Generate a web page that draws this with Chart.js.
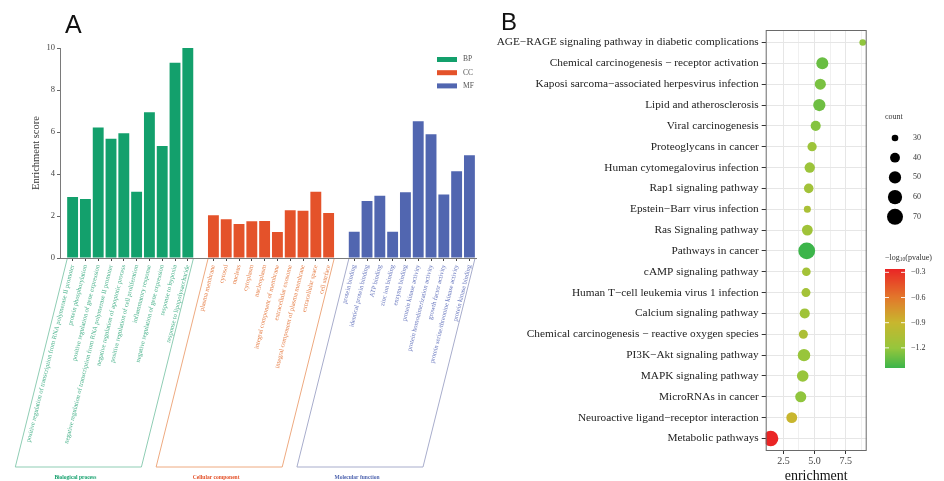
<!DOCTYPE html>
<html>
<head>
<meta charset="utf-8">
<script src="https://cdn.jsdelivr.net/npm/chart.js@4.4.0/dist/chart.umd.min.js"></script>
<style>
  html, body { margin: 0; padding: 0; background: #fff; overflow: hidden; }
  #wrapA { position: absolute; left: 0; top: 0; width: 480px; height: 481px; }
  #wrapB { position: absolute; left: 480px; top: 0; width: 464px; height: 481px; }
</style>
</head>
<body>
<div id="wrapA"><canvas id="goChart"></canvas></div>
<div id="wrapB"><canvas id="keggChart"></canvas></div>
<script>
// ---- panel A: GO enrichment ----
const bpTerms = [
  "positive regulation of transcription from RNA polymerase II promoter",
  "protein phosphorylation",
  "positive regulation of gene expression",
  "negative regulation of transcription from RNA polymerase II promoter",
  "negative regulation of apoptotic process",
  "positive regulation of cell proliferation",
  "inflammatory response",
  "negative regulation of gene expression",
  "response to hypoxia",
  "response to lipopolysaccharide"
];
const bpScores = [2.9, 2.81, 6.22, 5.68, 5.94, 3.16, 6.94, 5.33, 9.3, 10.0];

const ccTerms = [
  "plasma membrane", "cytosol", "nucleus", "cytoplasm", "nucleoplasm",
  "integral component of membrane", "extracellular exosome",
  "integral component of plasma membrane", "extracellular space", "cell surface"
];
const ccScores = [2.03, 1.84, 1.62, 1.75, 1.76, 1.24, 2.27, 2.25, 3.16, 2.14];

const mfTerms = [
  "protein binding", "identical protein binding", "ATP binding", "zinc ion binding",
  "enzyme binding", "protein kinase activity", "protein homodimerization activity",
  "growth factor activity", "protein serine/threonine kinase activity", "protein kinase binding"
];
const mfScores = [1.25, 2.71, 2.97, 1.25, 3.13, 6.51, 5.89, 3.02, 4.13, 4.89];
const scoreTicks = [0, 2, 4, 6, 8, 10];

// ---- panel B: KEGG dot plot ----
const pathways = [
  "AGE\u2212RAGE signaling pathway in diabetic complications",
  "Chemical carcinogenesis \u2212 receptor activation",
  "Kaposi sarcoma\u2212associated herpesvirus infection",
  "Lipid and atherosclerosis",
  "Viral carcinogenesis",
  "Proteoglycans in cancer",
  "Human cytomegalovirus infection",
  "Rap1 signaling pathway",
  "Epstein\u2212Barr virus infection",
  "Ras Signaling pathway",
  "Pathways in cancer",
  "cAMP signaling pathway",
  "Human T\u2212cell leukemia virus 1 infection",
  "Calcium signaling pathway",
  "Chemical carcinogenesis \u2212 reactive oxygen species",
  "PI3K\u2212Akt signaling pathway",
  "MAPK signaling pathway",
  "MicroRNAs in cancer",
  "Neuroactive ligand\u2212receptor interaction",
  "Metabolic pathways"
];
const enrichment = [8.86, 5.62, 5.46, 5.38, 5.09, 4.80, 4.61, 4.53, 4.42, 4.42, 4.37, 4.34, 4.31, 4.21, 4.10, 4.15, 4.05, 3.89, 3.17, 1.48];
const counts = [30, 49, 45, 50, 41, 38, 42, 39, 31, 44, 75, 36, 37, 41, 37, 51, 47, 45, 44, 66];
const logP = [-1.22, -1.32, -1.28, -1.31, -1.25, -1.16, -1.17, -1.13, -1.08, -1.14, -1.44, -1.12, -1.12, -1.14, -1.07, -1.19, -1.19, -1.22, -0.9, -0.26];
const enrichmentTicks = [2.5, 5.0, 7.5];
const countBreaks = [30, 40, 50, 60, 70];
const logPBreaks = [-0.3, -0.6, -0.9, -1.2];

const SERIF = '"Liberation Serif", "DejaVu Serif", serif';
const SANS = '"Liberation Sans", Arial, sans-serif';

const groups = [
  { name: "BP", title: "Biological process", terms: bpTerms, scores: bpScores, color: "#13a06c", text: "#45b088", box: "#8fcdb4" },
  { name: "CC", title: "Cellular component", terms: ccTerms, scores: ccScores, color: "#e4522a", text: "#e57d45", box: "#eeaa80" },
  { name: "MF", title: "Molecular function", terms: mfTerms, scores: mfScores, color: "#5166b0", text: "#6675bd", box: "#a8adcc" }
];

// lay the groups out on one index axis with an empty slot between them
const slots = [];
let pos = 0;
groups.forEach((g, gi) => {
  g.start = pos;
  g.terms.forEach((t, i) => slots.push({ x: pos + i, label: t, gi: gi }));
  pos += g.terms.length + 1;
});
const slotAt = {};
slots.forEach(s => { slotAt[s.x] = s; });

const ROT = 76;

const goDecor = {
  id: "goDecor",
  afterDraw(chart) {
    const ctx = chart.ctx;
    const xs = chart.scales.x;
    const area = chart.chartArea;
    ctx.save();
    ctx.fillStyle = "#111";
    ctx.font = "25px " + SANS;
    ctx.textBaseline = "alphabetic";
    ctx.fillText("A", 65, 33);

    // legend
    ctx.font = "7.5px " + SERIF;
    ctx.textBaseline = "middle";
    groups.forEach((g, i) => {
      const y = 59.5 + i * 13.2;
      ctx.fillStyle = g.color;
      ctx.fillRect(437, y - 2.5, 20, 5);
      ctx.fillStyle = "#555";
      ctx.fillText(g.name, 463, y);
    });

    // slanted group boxes
    const yTop = area.bottom + 1;
    const yBot = 467;
    const shift = (yBot - yTop) / Math.tan(ROT * Math.PI / 180);
    groups.forEach((g, gi) => {
      const bar = chart.getDatasetMeta(gi).data[0];
      const half = bar ? bar.width / 2 : 5.5;
      const x0 = xs.getPixelForValue(g.start) - half;
      const x1 = xs.getPixelForValue(g.start + g.terms.length - 1) + half;
      ctx.strokeStyle = g.box;
      ctx.lineWidth = 1;
      ctx.beginPath();
      ctx.moveTo(x0, yTop);
      ctx.lineTo(x0 - shift, yBot);
      ctx.lineTo(x1 - shift, yBot);
      ctx.lineTo(x1, yTop);
      ctx.stroke();
      ctx.fillStyle = g.color;
      ctx.font = "bold 5.5px " + SERIF;
      ctx.textAlign = "center";
      ctx.fillText(g.title, (x0 + x1) / 2 - shift - 3, 477.5);
    });
    ctx.restore();
  }
};

new Chart(document.getElementById("goChart"), {
  type: "bar",
  data: {
    datasets: groups.map(g => ({
      label: g.name,
      data: g.scores.map((v, i) => ({ x: g.start + i, y: v })),
      backgroundColor: g.color,
      grouped: false,
      categoryPercentage: 1,
      barPercentage: 0.85
    }))
  },
  options: {
    responsive: true,
    maintainAspectRatio: false,
    animation: false,
    layout: { padding: { top: 48, left: 0, right: 0, bottom: 0 } },
    plugins: { legend: { display: false }, tooltip: { enabled: false } },
    scales: {
      x: {
        type: "linear",
        min: -0.985,
        max: 31.57,
        offset: false,
        afterBuildTicks: s => { s.ticks = slots.map(p => ({ value: p.x })); },
        afterFit: s => { s.height = 223; },
        ticks: {
          autoSkip: false,
          minRotation: ROT,
          maxRotation: ROT,
          padding: 3,
          font: { family: SERIF, size: 6.5 },
          color: c => slotAt[c.tick.value] ? groups[slotAt[c.tick.value].gi].text : "#666",
          callback: v => slotAt[v] ? slotAt[v].label : ""
        },
        grid: { drawOnChartArea: false, offset: false, tickLength: 3, color: "#444" },
        border: { color: "#7a7a7a" }
      },
      y: {
        min: 0,
        max: 10,
        afterBuildTicks: s => { s.ticks = scoreTicks.map(v => ({ value: v })); },
        afterFit: s => { s.width = 60; },
        ticks: { font: { family: SERIF, size: 8.5 }, color: "#444", padding: 2 },
        grid: { drawOnChartArea: false, tickLength: 3, color: "#666" },
        border: { color: "#7a7a7a" },
        title: {
          display: true,
          text: "Enrichment score",
          font: { family: SERIF, size: 10.5 },
          color: "#333",
          padding: { top: 30, bottom: 0 }
        }
      }
    }
  },
  plugins: [goDecor]
});

// ---- panel B helpers ----
const palette = [
  { t: 0, c: [60, 181, 74] },
  { t: 0.2, c: [150, 198, 60] },
  { t: 0.46, c: [200, 182, 46] },
  { t: 0.71, c: [226, 120, 43] },
  { t: 1, c: [234, 37, 37] }
];
const logMin = Math.min(...logP);
const logMax = Math.max(...logP);
function colorOf(v) {
  const t = Math.max(0, Math.min(1, (v - logMin) / (logMax - logMin)));
  for (let i = 1; i < palette.length; i++) {
    if (t <= palette[i].t) {
      const a = palette[i - 1], b = palette[i];
      const f = (t - a.t) / (b.t - a.t);
      const c = a.c.map((ch, k) => Math.round(ch + (b.c[k] - ch) * f));
      return "rgb(" + c.join(",") + ")";
    }
  }
  return "rgb(" + palette[palette.length - 1].c.join(",") + ")";
}
function sizeOf(n) {
  return Math.sqrt(10.9 + (n - 30) * 1.33);
}
const minorTicks = enrichmentTicks.map(v => v + 1.25);

const keggDecor = {
  id: "keggDecor",
  afterDraw(chart) {
    const ctx = chart.ctx;
    const a = chart.chartArea;
    ctx.save();
    ctx.strokeStyle = "#6a6a6a";
    ctx.lineWidth = 1;
    ctx.strokeRect(a.left + 0.5, a.top + 0.5, a.right - a.left - 1, a.bottom - a.top - 1);

    ctx.fillStyle = "#111";
    ctx.font = "24px " + SANS;
    ctx.fillText("B", 21, 30);

    // size legend
    ctx.font = "8px " + SERIF;
    ctx.fillStyle = "#333";
    ctx.textBaseline = "middle";
    ctx.fillText("count", 405, 117);
    countBreaks.forEach((n, i) => {
      const y = 138 + i * 19.7;
      ctx.fillStyle = "#000";
      ctx.beginPath();
      ctx.arc(415, y, sizeOf(n), 0, Math.PI * 2);
      ctx.fill();
      ctx.fillStyle = "#333";
      ctx.fillText(String(n), 433, y);
    });

    // colour bar
    const bx = 405, bw = 20, top = 269, bot = 368;
    for (let y = top; y < bot; y++) {
      const v = logMax - (y + 0.5 - top) / (bot - top) * (logMax - logMin);
      ctx.fillStyle = colorOf(v);
      ctx.fillRect(bx, y, bw, 1);
    }
    ctx.strokeStyle = "rgba(255,255,255,0.9)";
    logPBreaks.forEach(v => {
      const y = top + (logMax - v) / (logMax - logMin) * (bot - top);
      ctx.beginPath();
      ctx.moveTo(bx, y); ctx.lineTo(bx + 4, y);
      ctx.moveTo(bx + bw - 4, y); ctx.lineTo(bx + bw, y);
      ctx.stroke();
      ctx.fillStyle = "#333";
      ctx.fillText("\u2212" + Math.abs(v).toFixed(1), bx + bw + 6, y);
    });
    let tx = 405;
    ctx.fillStyle = "#333";
    ctx.fillText("\u2212log", tx, 258);
    tx += ctx.measureText("\u2212log").width;
    ctx.font = "5.5px " + SERIF;
    ctx.fillText("10", tx, 260);
    tx += ctx.measureText("10").width;
    ctx.font = "8px " + SERIF;
    ctx.fillText("(pvalue)", tx, 258);
    ctx.restore();
  }
};

new Chart(document.getElementById("keggChart"), {
  type: "scatter",
  data: {
    datasets: [{
      label: "KEGG",
      data: pathways.map((p, i) => ({ x: enrichment[i], y: i })),
      pointRadius: c => sizeOf(counts[c.dataIndex]),
      pointHoverRadius: c => sizeOf(counts[c.dataIndex]),
      pointBackgroundColor: c => colorOf(logP[c.dataIndex]),
      pointBorderWidth: 0
    }]
  },
  options: {
    responsive: true,
    maintainAspectRatio: false,
    animation: false,
    layout: { padding: { top: 30, left: 0, right: 77.3, bottom: 0 } },
    plugins: { legend: { display: false }, tooltip: { enabled: false } },
    scales: {
      x: {
        type: "linear",
        min: 1.08,
        max: 9.18,
        afterBuildTicks: s => {
          s.ticks = enrichmentTicks.concat(minorTicks).sort((p, q) => p - q).map(v => ({ value: v }));
        },
        afterFit: s => { s.height = 30; },
        ticks: {
          font: { family: SERIF, size: 10 },
          color: "#444",
          padding: 1,
          callback: v => enrichmentTicks.includes(v) ? v.toFixed(1) : ""
        },
        grid: {
          color: c => enrichmentTicks.includes(c.tick.value) ? "#e6e6e6" : "#f0f0f0",
          tickColor: c => enrichmentTicks.includes(c.tick.value) ? "#333" : "rgba(0,0,0,0)",
          tickLength: 3
        },
        border: { display: false },
        title: {
          display: true,
          text: "enrichment",
          font: { family: SERIF, size: 14 },
          color: "#111",
          padding: { top: 0, bottom: -4 }
        }
      },
      y: {
        type: "linear",
        reverse: true,
        min: -0.6,
        max: 19.6,
        afterBuildTicks: s => { s.ticks = pathways.map((p, i) => ({ value: i })); },
        afterFit: s => { s.width = 285.7; },
        ticks: {
          autoSkip: false,
          font: { family: SERIF, size: 11.3 },
          color: "#222",
          padding: 3,
          callback: v => pathways[v]
        },
        grid: { color: "#e6e6e6", tickColor: "#333", tickLength: 4 },
        border: { display: false }
      }
    }
  },
  plugins: [keggDecor]
});
</script>
</body>
</html>
